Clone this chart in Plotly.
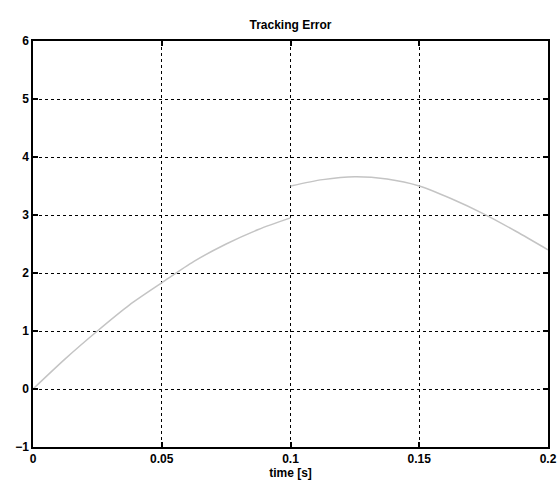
import plotly.graph_objects as go

# Tracking error curve; None marks the jump at t = 0.1 s
time_s = [0.0, 0.0125, 0.025, 0.0375, 0.05, 0.0625, 0.075, 0.0875, 0.1,
          0.1, 0.1, 0.1125, 0.125, 0.1375, 0.15, 0.1625, 0.175, 0.1875, 0.2]
error = [0.0, 0.52, 1.0, 1.45, 1.83, 2.2, 2.5, 2.75, 2.95,
         None, 3.5, 3.61, 3.66, 3.62, 3.5, 3.28, 3.02, 2.72, 2.4]

x_ticks = [0, 0.05, 0.1, 0.15, 0.2]
x_tick_text = ["0", "0.05", "0.1", "0.15", "0.2"]
y_ticks = [-1, 0, 1, 2, 3, 4, 5, 6]

font = dict(family="Liberation Sans, Arial, sans-serif", size=12, color="black",
            weight="bold")

fig = go.Figure()
fig.add_trace(go.Scatter(x=time_s, y=error, mode="lines", connectgaps=False,
                         line=dict(color="#c4c4c4", width=1.5, shape="spline",
                                   smoothing=0.8),
                         hoverinfo="skip", showlegend=False))

axis_common = dict(showline=True, linecolor="black", linewidth=1.5, mirror="ticks",
                   ticks="inside", ticklen=5, tickcolor="black", tickwidth=1.5,
                   showgrid=True, gridcolor="black", gridwidth=1.3, griddash="dot",
                   zeroline=False, tickfont=font, automargin=False)

W, H = 559, 485
fig.update_layout(
    width=W, height=H,
    margin=dict(l=33, r=11, t=41, b=38),
    paper_bgcolor="white", plot_bgcolor="white",
    font=font,
    title=dict(text="Tracking Error", x=0.5, xanchor="center", xref="paper",
               y=1 - 25 / H, yanchor="middle", font=font),
    xaxis=dict(range=[0, 0.2], tickvals=x_ticks, ticktext=x_tick_text,
               title=dict(text="time [s]", standoff=0, font=font), **axis_common),
    yaxis=dict(range=[-1, 6], tickvals=y_ticks, ticklabelstandoff=0, **axis_common),
)

# remove the browser's default 8 px body margin so the figure fills the window
fig.write_html("out.html",
               config={"displayModeBar": False},
               post_script="document.body.style.margin='0';"
                           "document.body.style.overflow='hidden';")
